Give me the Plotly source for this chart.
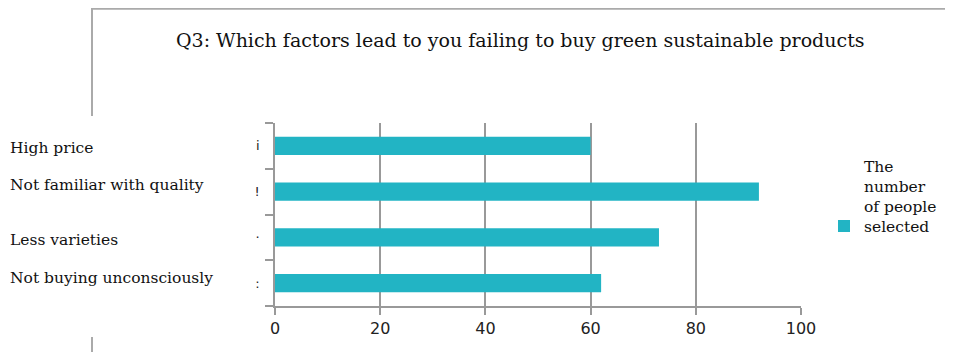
import plotly.graph_objects as go

categories = ["High price", "Not familiar with quality", "Less varieties", "Not buying unconsciously"]
values = [60, 92, 73, 62]
tick_glyphs = ["i", "!", "·", ":"]
x_ticks = [0, 20, 40, 60, 80, 100]
series_name = "The<br>number<br>of people<br>selected"
title_text = "Q3: Which factors lead to you failing to buy green sustainable products"

# page body has an 8px margin; work in screen pixels and convert
OFF = 8
SW, SH = 953, 352
W, H = SW - OFF, SH - OFF
PX0, PX1 = 275, 801      # plot area left/right in screen px
PY0, PY1 = 123, 306      # plot area top/bottom in screen px
L = PX0 - OFF
R = (OFF + W) - PX1
T = PY0 - OFF
B = SH - PY1
pw, ph = PX1 - PX0, PY1 - PY0

def px_to_paper_x(px):
    return (px - PX0) / pw

def px_to_paper_y(py):
    return (PY1 - py) / ph

fig = go.Figure()
fig.add_trace(go.Bar(
    y=categories, x=values, orientation="h",
    marker=dict(color="#22B4C4", line=dict(width=0)),
    name=series_name, showlegend=True,
))

label_y = [148, 185, 240, 278]
for cat, ly in zip(categories, label_y):
    fig.add_annotation(
        text=cat, xref="paper", yref="paper",
        x=px_to_paper_x(8), y=px_to_paper_y(ly),
        xanchor="left", yanchor="middle", showarrow=False,
        font=dict(family="DejaVu Serif", size=15.5, color="#111"),
    )

frame_col = "#aaaaaa"
fig.add_shape(type="line", xref="paper", yref="paper",
              x0=px_to_paper_x(92), x1=px_to_paper_x(960),
              y0=px_to_paper_y(8.8), y1=px_to_paper_y(8.8),
              line=dict(color=frame_col, width=2))
fig.add_shape(type="line", xref="paper", yref="paper",
              x0=px_to_paper_x(92), x1=px_to_paper_x(92),
              y0=px_to_paper_y(8), y1=px_to_paper_y(116),
              line=dict(color=frame_col, width=2))
fig.add_shape(type="line", xref="paper", yref="paper",
              x0=px_to_paper_x(92), x1=px_to_paper_x(92),
              y0=px_to_paper_y(337), y1=px_to_paper_y(360),
              line=dict(color=frame_col, width=2))

fig.update_layout(
    width=W, height=H,
    margin=dict(l=L, r=R, t=T, b=B, pad=0, autoexpand=False),
    paper_bgcolor="white", plot_bgcolor="white",
    bargap=0.6,
    title=dict(text=title_text, x=(176 - OFF) / W, xanchor="left", xref="container",
               y=1 - (40 - OFF) / H, yanchor="middle", yref="container",
               font=dict(family="DejaVu Serif", size=19, color="#111")),
    xaxis=dict(range=[0, 100], tickvals=x_ticks, showgrid=True,
               gridcolor="#999999", gridwidth=1.5,
               showline=True, linecolor="#999999", linewidth=1.5,
               ticks="outside", ticklen=7, tickcolor="#999999", tickwidth=1.5,
               tickfont=dict(family="DejaVu Sans", size=16, color="#222"),
               zeroline=False, fixedrange=True, automargin=False),
    yaxis=dict(autorange="reversed", showgrid=False,
               tickmode="array", tickvals=categories, ticktext=tick_glyphs,
               showline=True, linecolor="#999999", linewidth=1.5,
               ticks="outside", ticklen=8, tickcolor="#999999", tickwidth=1.5,
               tickson="boundaries",
               tickfont=dict(family="DejaVu Sans", size=13, color="#222"),
               ticklabelstandoff=11, automargin=False),
    legend=dict(xref="container", yref="container",
                x=(824 - OFF) / W, xanchor="left", y=1 - (149 - OFF) / H, yanchor="top",
                valign="bottom", bgcolor="rgba(0,0,0,0)",
                font=dict(family="DejaVu Serif", size=15.5, color="#111"),
                itemwidth=30),
)

fig.write_html("out.html")
